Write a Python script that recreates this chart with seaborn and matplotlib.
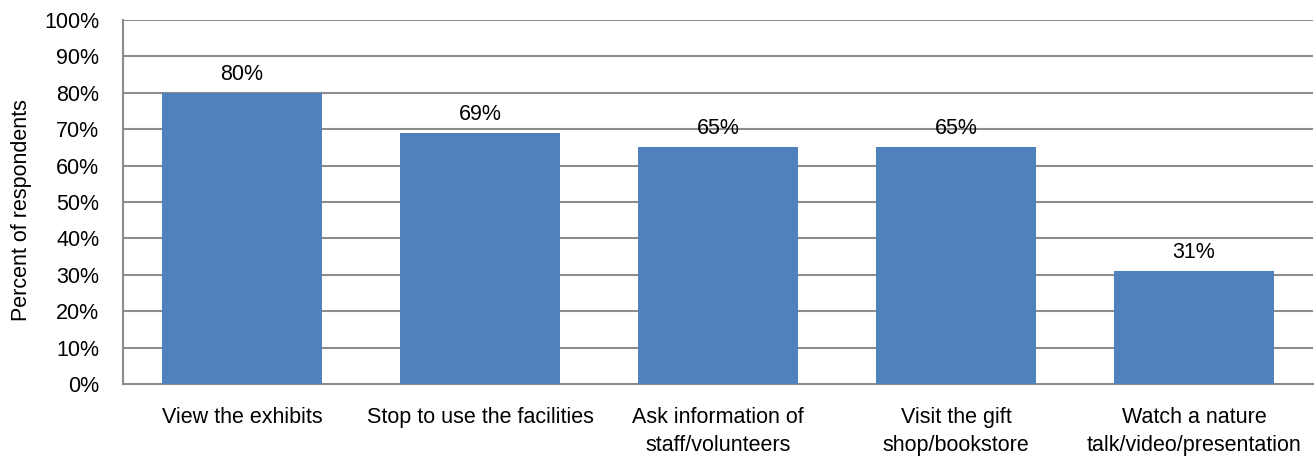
import matplotlib
matplotlib.use("Agg")
import matplotlib.pyplot as plt
import seaborn as sns
import pandas as pd
from matplotlib.ticker import FixedLocator, PercentFormatter

categories = ["View the exhibits", "Stop to use the facilities",
              "Ask information of\nstaff/volunteers", "Visit the gift\nshop/bookstore",
              "Watch a nature\ntalk/video/presentation"]
values = [80, 69, 65, 65, 31]
value_labels = ["80%", "69%", "65%", "65%", "31%"]
y_ticks = [0, 10, 20, 30, 40, 50, 60, 70, 80, 90, 100]

sns.set_style("white")
plt.rcParams['font.family'] = ['Liberation Sans', 'DejaVu Sans']
plt.rcParams['text.color'] = 'black'
plt.rcParams['xtick.labelcolor'] = 'black'
plt.rcParams['ytick.labelcolor'] = 'black'
plt.rcParams['axes.labelcolor'] = 'black'

df = pd.DataFrame({"cat": categories, "val": values})

fig = plt.figure(figsize=(13.14, 4.61), dpi=100)
ax = fig.add_axes([123/1314, 1 - 384/461, 1190/1314, 364/461])

sns.barplot(data=df, x="cat", y="val", color="#4F81BD", saturation=1, width=0.67,
            linewidth=0, ax=ax, zorder=3)

grid_c = "#8C8C8C"
ax.set_ylim(0, 100)
ax.set_xlim(-0.5, len(categories) - 0.5)
ax.set_yticks(y_ticks)
ax.yaxis.set_major_formatter(PercentFormatter(decimals=0))
for y in y_ticks[1:]:
    ax.axhline(y, color=grid_c, lw=1.5, zorder=1)

for i, (v, lab) in enumerate(zip(values, value_labels)):
    ax.text(i, v + 2.2, lab, ha="center", va="bottom", fontsize=15.5, color="black")

ax.xaxis.set_minor_locator(FixedLocator([i - 0.5 for i in range(len(categories) + 1)]))
ax.tick_params(axis="x", which="major", length=0, labelsize=15.5, pad=16.5)
ax.tick_params(axis="x", which="minor", length=6, width=1.5, color=grid_c, direction="out")
ax.tick_params(axis="y", length=6, width=1.5, color=grid_c, direction="out", labelsize=15.5, pad=11)
for t in ax.get_xticklabels():
    t.set_linespacing(1.45)
ax.set_xlabel("")
ax.set_ylabel("Percent of respondents", fontsize=15.5)
ax.yaxis.set_label_coords((22 - 123) / 1190, 0.478)
ax.yaxis.label.set_verticalalignment("center")

for s in ["top", "right"]:
    ax.spines[s].set_visible(False)
for s in ["left", "bottom"]:
    ax.spines[s].set_color(grid_c)
    ax.spines[s].set_linewidth(1.5)

fig.savefig("out.png", dpi=100)
